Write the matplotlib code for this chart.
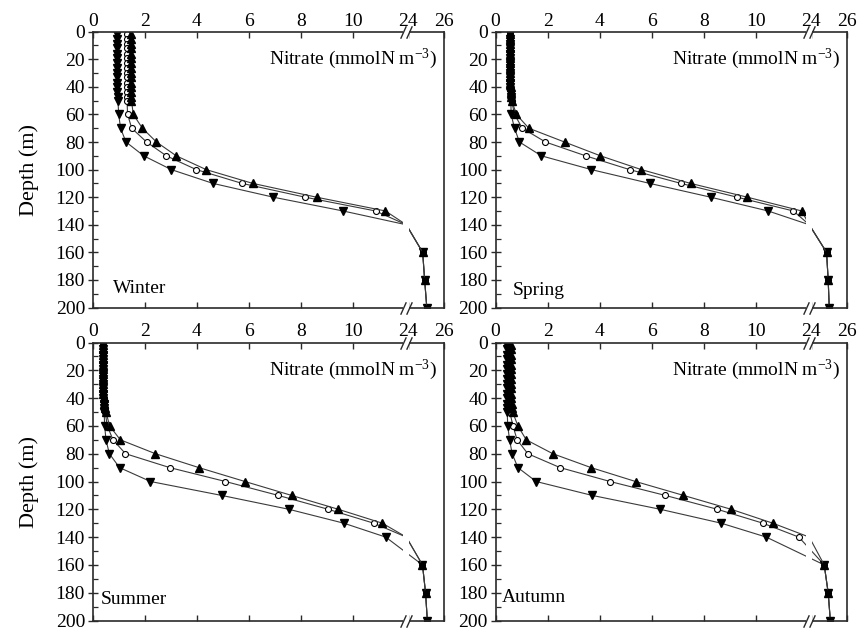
import numpy as np
import matplotlib
matplotlib.use("Agg")
import matplotlib.pyplot as plt
from matplotlib.ticker import MultipleLocator, NullLocator

plt.rcParams['font.family'] = ['Liberation Serif', 'DejaVu Serif']
plt.rcParams['mathtext.fontset'] = 'custom'
plt.rcParams['mathtext.rm'] = 'Liberation Serif'
plt.rcParams['mathtext.it'] = 'Liberation Serif:italic'

# ---------------- data ----------------
depth = [2, 5, 9, 12, 16, 19, 23, 26, 30, 33, 37, 40, 44, 47, 50,
         60, 70, 80, 90, 100, 110, 120, 130, 140, 160, 180, 200]

seasons = ["Winter", "Spring", "Summer", "Autumn"]

# values of 18 lie inside the axis break (hidden)
winter_down = [0.95, 0.95, 0.95, 0.95, 0.95, 0.95, 0.95, 0.95, 0.95, 0.95, 0.95, 0.95, 0.95, 0.96, 0.97,
               1.00, 1.07, 1.28, 1.96, 3.02, 4.62, 6.94, 9.62, 18.0, 24.84, 24.95, 25.07]
winter_circ = [1.30, 1.30, 1.30, 1.30, 1.30, 1.30, 1.30, 1.30, 1.30, 1.30, 1.30, 1.30, 1.31, 1.31, 1.32,
               1.34, 1.50, 2.07, 2.83, 3.98, 5.74, 8.16, 10.87, 18.0, 24.84, 24.95, 25.07]
winter_up = [1.47, 1.47, 1.47, 1.47, 1.47, 1.47, 1.47, 1.47, 1.47, 1.47, 1.47, 1.47, 1.48, 1.48, 1.49,
             1.56, 1.91, 2.45, 3.21, 4.36, 6.15, 8.60, 11.25, 18.0, 24.84, 24.95, 25.07]

spring_down = [0.54, 0.54, 0.54, 0.54, 0.54, 0.54, 0.54, 0.54, 0.55, 0.55, 0.55, 0.56, 0.57, 0.58, 0.59,
               0.60, 0.73, 0.92, 1.76, 3.68, 5.92, 8.26, 10.47, 18.0, 24.89, 24.98, 25.04]
spring_circ = [0.55, 0.55, 0.55, 0.55, 0.55, 0.55, 0.55, 0.55, 0.56, 0.56, 0.56, 0.57, 0.58, 0.60, 0.62,
               0.73, 1.03, 1.92, 3.46, 5.15, 7.12, 9.28, 11.44, 18.0, 24.89, 24.98, 25.04]
spring_up = [0.56, 0.56, 0.56, 0.56, 0.56, 0.56, 0.56, 0.56, 0.57, 0.57, 0.57, 0.58, 0.59, 0.61, 0.63,
             0.80, 1.28, 2.65, 4.03, 5.60, 7.49, 9.67, 11.76, 18.0, 24.89, 24.98, 25.04]

summer_down = [0.38, 0.38, 0.38, 0.38, 0.38, 0.38, 0.38, 0.38, 0.39, 0.39, 0.40, 0.41, 0.42, 0.43, 0.44,
               0.46, 0.51, 0.64, 1.03, 2.22, 4.95, 7.54, 9.65, 11.26, 24.83, 25.00, 25.10]
summer_circ = [0.38, 0.38, 0.38, 0.38, 0.38, 0.38, 0.38, 0.38, 0.39, 0.39, 0.40, 0.42, 0.44, 0.46, 0.48,
               0.56, 0.78, 1.26, 2.96, 5.10, 7.13, 9.05, 10.80, 18.0, 24.83, 25.00, 25.10]
summer_up = [0.39, 0.39, 0.39, 0.39, 0.39, 0.39, 0.39, 0.39, 0.40, 0.40, 0.41, 0.43, 0.45, 0.48, 0.51,
             0.65, 1.06, 2.41, 4.08, 5.85, 7.64, 9.44, 11.13, 18.0, 24.83, 25.00, 25.10]

autumn_down = [0.44, 0.44, 0.44, 0.44, 0.44, 0.44, 0.44, 0.44, 0.44, 0.44, 0.44, 0.44, 0.45, 0.45, 0.45,
               0.47, 0.54, 0.64, 0.86, 1.56, 3.71, 6.33, 8.67, 10.40, 24.76, 24.98, 25.10]
autumn_circ = [0.51, 0.51, 0.51, 0.51, 0.51, 0.51, 0.51, 0.51, 0.51, 0.51, 0.52, 0.52, 0.53, 0.54, 0.55,
               0.67, 0.83, 1.24, 2.48, 4.40, 6.52, 8.52, 10.27, 11.65, 24.76, 24.98, 25.10]
autumn_up = [0.60, 0.60, 0.60, 0.60, 0.60, 0.60, 0.60, 0.60, 0.60, 0.60, 0.61, 0.61, 0.62, 0.64, 0.66,
             0.86, 1.18, 2.20, 3.67, 5.38, 7.22, 9.05, 10.65, 18.0, 24.76, 24.98, 25.10]

series = {
    "Winter": (winter_down, winter_circ, winter_up),
    "Spring": (spring_down, spring_circ, spring_up),
    "Summer": (summer_down, summer_circ, summer_up),
    "Autumn": (autumn_down, autumn_circ, autumn_up),
}

xticks = [0, 2, 4, 6, 8, 10, 24, 26]
xticklabels = ["0", "2", "4", "6", "8", "10", "24", "26"]
yticks = [0, 20, 40, 60, 80, 100, 120, 140, 160, 180, 200]

# ---------------- broken x scale ----------------
GAP_LO, GAP_HI = 12.0, 24.0
GAP_W = 0.1
K = 0.69


def fwd(x):
    x = np.asarray(x, dtype=float)
    return np.where(x <= GAP_LO, x,
                    np.where(x <= GAP_HI,
                             GAP_LO + (x - GAP_LO) * GAP_W / (GAP_HI - GAP_LO),
                             GAP_LO + GAP_W + (x - GAP_HI) * K))


def inv(t):
    t = np.asarray(t, dtype=float)
    return np.where(t <= GAP_LO, t,
                    np.where(t <= GAP_LO + GAP_W,
                             GAP_LO + (t - GAP_LO) * (GAP_HI - GAP_LO) / GAP_W,
                             GAP_HI + (t - GAP_LO - GAP_W) / K))


def visible(vals):
    return [i for i, v in enumerate(vals) if not (GAP_LO < v < GAP_HI)]


W, H = 857, 630
fig = plt.figure(figsize=(W / 100, H / 100), dpi=100)

# pixel boxes: left, top, right, bottom
boxes = {
    "Winter": (92.7, 31.7, 443.5, 307.5),
    "Spring": (495.5, 31.7, 846.5, 307.5),
    "Summer": (92.7, 342.5, 443.5, 620.5),
    "Autumn": (495.5, 342.5, 846.5, 620.5),
}
label_pos = {
    "Winter": (0.058, 0.07),
    "Spring": (0.049, 0.06),
    "Summer": (0.022, 0.075),
    "Autumn": (0.018, 0.082),
}

line_col = '#3a3a3a'
spine_col = '#2a2a2a'
FS = 14

for s in seasons:
    l, t, r, b = boxes[s]
    ax = fig.add_axes([l / W, 1 - b / H, (r - l) / W, (b - t) / H])
    ax.set_xscale('function', functions=(fwd, inv))
    down, circ, up = series[s]
    ax.plot(circ, depth, '-', color=line_col, lw=0.8, marker='o', ms=4.3,
            mfc='white', mec='black', mew=0.8, zorder=2, markevery=visible(circ))
    ax.plot(down, depth, '-', color=line_col, lw=0.8, marker='v', ms=5.4,
            mfc='black', mec='black', zorder=2, markevery=visible(down))
    ax.plot(up, depth, '-', color=line_col, lw=0.8, marker='^', ms=5.4,
            mfc='black', mec='black', zorder=2, markevery=visible(up))

    ax.set_xlim(0, 26)
    ax.set_ylim(200, 0)

    # break band
    blo = 11.93
    bhi = float(inv(12.17))
    ax.axvspan(blo, bhi, ymin=-0.02, ymax=1.02, color='white', lw=0,
               zorder=2.6, clip_on=False)
    trans = ax.get_xaxis_transform()
    for xb in (blo, bhi):
        for yb in (0, 1):
            ax.plot([xb], [yb], transform=trans, marker=[(-0.45, -1), (0.45, 1)],
                    ms=9, mew=1.0, mec=spine_col, mfc='none', clip_on=False,
                    zorder=5, ls='none')

    ax.set_xticks(xticks)
    ax.set_xticklabels(xticklabels)
    ax.xaxis.set_minor_locator(NullLocator())
    ax.set_yticks(yticks)
    ax.yaxis.set_minor_locator(MultipleLocator(10))

    ax.tick_params(axis='x', which='major', direction='in', top=True, bottom=True,
                   labeltop=True, labelbottom=False, length=4, width=1.0,
                   labelsize=FS, pad=1.5, color=spine_col)
    ax.tick_params(axis='y', which='major', direction='inout', left=True, right=False,
                   length=7, width=1.0, labelsize=FS, pad=2, color=spine_col)
    ax.tick_params(axis='y', which='minor', direction='in', left=True, right=False,
                   length=3.5, width=0.9, color=spine_col)

    for sp in ax.spines.values():
        sp.set_color(spine_col)
        sp.set_linewidth(1.2)

    ax.text(0.982, 0.9, 'Nitrate (mmolN m$^{-3}$)', transform=ax.transAxes,
            ha='right', va='center', fontsize=FS)
    lx, ly = label_pos[s]
    ax.text(lx, ly, s, transform=ax.transAxes, ha='left', va='center', fontsize=FS)

    if s in ("Winter", "Summer"):
        ax.set_ylabel('Depth (m)', fontsize=16, labelpad=12)

fig.savefig('out.png', dpi=100)
